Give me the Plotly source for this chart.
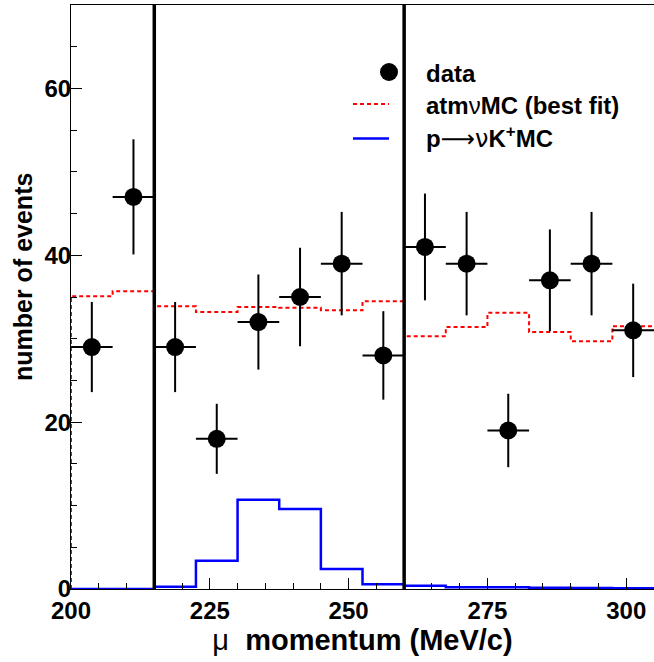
import plotly.graph_objects as go

# ---------------- data ----------------
bin_edges = [200, 207.5, 215, 222.5, 230, 237.5, 245, 252.5, 260, 267.5, 275, 282.5, 290, 297.5, 305]
bin_centers = [203.75, 211.25, 218.75, 226.25, 233.75, 241.25, 248.75, 256.25,
               263.75, 271.25, 278.75, 286.25, 293.75, 301.25]
data_counts = [29, 47, 29, 18, 32, 35, 39, 28, 41, 39, 19, 37, 39, 31]
data_err = [5.4, 6.9, 5.4, 4.2, 5.7, 5.9, 6.2, 5.3, 6.4, 6.2, 4.4, 6.1, 6.2, 5.6]
half_width = [3.75] * 14
atm_mc = [35.1, 35.7, 33.9, 33.2, 33.8, 33.7, 33.4, 34.5, 30.3, 31.4, 33.1, 30.8, 29.7, 31.5]
pk_mc = [0.0, 0.0, 0.28, 3.4, 10.7, 9.6, 2.4, 0.56, 0.4, 0.2, 0.2, 0.15, 0.12, 0.1]
cut_edges = [215, 260]
x_range = [200, 305]
y_range = [0, 70]

FONT = "Liberation Sans, Arial, Helvetica, sans-serif"

W, H = 654, 662
L, R, T, B = 71, 654, 5, 589


def px(x):
    return (x - L) / (R - L)


def py(y):
    return (B - y) / (B - T)


def step(vals):
    return [bin_edges[0]] + bin_edges[:-1] + [bin_edges[-1]], [0] + vals + [vals[-1]]


fig = go.Figure()

sx, sy = step(atm_mc)
fig.add_trace(go.Scatter(x=sx, y=sy, mode="lines", line_shape="hv",
                         line=dict(color="#ff0000", width=2, dash="4px,3px"),
                         showlegend=False, hoverinfo="skip"))
sx, sy = step(pk_mc)
fig.add_trace(go.Scatter(x=sx, y=sy, mode="lines", line_shape="hv",
                         line=dict(color="#0000ff", width=2.5),
                         showlegend=False, hoverinfo="skip"))

cx, cy = [], []
for c in cut_edges:
    cx += [c, c, None]
    cy += [y_range[0], y_range[1], None]
fig.add_trace(go.Scatter(x=cx, y=cy, mode="lines", line=dict(color="black", width=3.5),
                         showlegend=False, hoverinfo="skip"))

fig.add_trace(go.Scatter(
    x=bin_centers, y=data_counts, mode="markers",
    marker=dict(color="black", size=18),
    error_y=dict(type="data", array=data_err, color="black", thickness=2, width=0),
    error_x=dict(type="data", array=half_width, color="black", thickness=2, width=0),
    showlegend=False))

# ---------------- legend (drawn manually) ----------------
shapes = [
    dict(type="circle", xref="paper", yref="paper",
         x0=px(380), x1=px(398), y0=py(81), y1=py(63),
         fillcolor="black", line=dict(color="black", width=0)),
    dict(type="line", xref="paper", yref="paper", x0=px(353), x1=px(389),
         y0=py(104), y1=py(104), line=dict(color="#ff0000", width=2, dash="4px,3px")),
    dict(type="line", xref="paper", yref="paper", x0=px(353), x1=px(389),
         y0=py(138.5), y1=py(138.5), line=dict(color="#0000ff", width=2.5)),
]
leg_font = dict(family=FONT, size=24, color="black", weight="bold")
annotations = [
    dict(text="data", x=px(424), y=py(74), xref="paper", yref="paper",
         xanchor="left", yanchor="middle", showarrow=False, font=leg_font),
    dict(text='atm<span style="font-weight:normal">ν</span>MC (best fit)', x=px(424), y=py(105),
         xref="paper", yref="paper", xanchor="left", yanchor="middle", showarrow=False, font=leg_font),
    dict(text='p<span style="font-weight:normal;font-family:DejaVu Sans">⟶ν</span>K<sup>+</sup>MC',
         x=px(424), y=py(138),
         xref="paper", yref="paper", xanchor="left", yanchor="middle", showarrow=False, font=leg_font),
    dict(text="number of events", x=px(23), y=py(277), xref="paper", yref="paper",
         xanchor="center", yanchor="middle", textangle=-90, showarrow=False,
         font=dict(family=FONT, size=25, color="black", weight="bold")),
]

fig.update_layout(
    width=W, height=H,
    margin=dict(l=L, r=W - R, t=T, b=H - B, pad=0),
    paper_bgcolor="white", plot_bgcolor="white",
    shapes=shapes, annotations=annotations,
    font=dict(family=FONT, color="black"),
)

fig.update_xaxes(
    range=x_range, showgrid=False, zeroline=False,
    showline=True, linecolor="black", linewidth=1.2, mirror=True,
    ticks="inside", ticklen=11, tickwidth=1, tickcolor="black",
    tick0=200, dtick=25,
    minor=dict(ticks="inside", ticklen=6, dtick=5, tickcolor="black", tickwidth=1, showgrid=False),
    tickfont=dict(family=FONT, size=24, color="black", weight="bold"),
    title=dict(text='<span style="font-weight:normal">μ</span>  momentum (MeV/c)',
               font=dict(family=FONT, size=29, color="black", weight="bold"), standoff=3),
    automargin=False,
)
fig.update_yaxes(
    range=y_range, showgrid=False, zeroline=False,
    showline=True, linecolor="black", linewidth=1.2, mirror=False,
    ticks="inside", ticklen=11, tickwidth=1, tickcolor="black",
    tick0=0, dtick=20,
    minor=dict(ticks="inside", ticklen=6, dtick=5, tickcolor="black", tickwidth=1, showgrid=False),
    tickfont=dict(family=FONT, size=24, color="black", weight="bold"),
    ticklabelstandoff=-6,
    automargin=False,
)

fig.write_html(
    "out.html",
    config={"displayModeBar": False},
    post_script="document.body.style.margin='0';document.body.style.overflow='hidden';",
)
